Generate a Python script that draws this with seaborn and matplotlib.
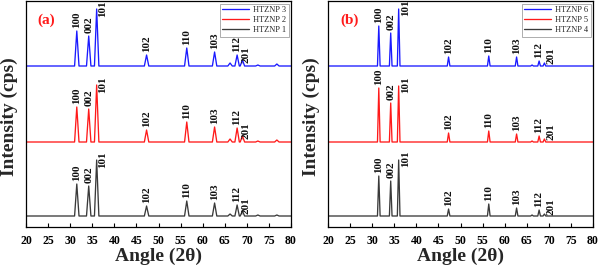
import matplotlib
matplotlib.use("Agg")
import matplotlib.pyplot as plt
import seaborn as sns
import pandas as pd

# ---------------- data ----------------
angle_min, angle_max = 20, 80
hkl_labels = ["100", "002", "101", "102", "110", "103", "112", "201"]
hkl_pos = [31.5, 34.2, 36.0, 47.3, 56.4, 62.7, 67.8, 69.0]
minor_pos = [66.2, 72.5, 76.8]

# panel (a)
names_a = ["HTZNP 1", "HTZNP 2", "HTZNP 3"]
heights_a1 = [32, 30, 56, 10, 15, 13, 11, 5]
heights_a2 = [35, 33, 57, 12, 20, 15, 14, 6]
heights_a3 = [35, 30, 57, 11, 18, 14, 11, 6]
minor_a1 = [2, 1, 1]
minor_a2 = [3, 1, 2]
minor_a3 = [3, 1, 2]

# panel (b)
names_b = ["HTZNP 4", "HTZNP 5", "HTZNP 6"]
heights_b1 = [40, 35, 56, 7, 12, 8, 6, 2]
heights_b2 = [54, 39, 56, 9, 11, 8, 6, 3]
heights_b3 = [40, 33, 57, 9, 10, 9, 5, 3]
minor_b1 = [1, 0, 0]
minor_b2 = [1, 0, 0]
minor_b3 = [1, 0, 0]

stack_offset = [11, 85, 161]   # vertical shift of each stacked pattern
colors = ["#3a3a3a", "#ff1a1a", "#1a1aff"]

# ---------------- style ----------------
sns.set_theme(style="ticks")
plt.rcParams["font.family"] = ["Liberation Serif", "DejaVu Serif"]
plt.rcParams["axes.linewidth"] = 0.9

fig = plt.figure(figsize=(6.02, 2.70), dpi=100)
W, H = 602, 270


def ax_at(left, top, right, bottom):
    return fig.add_axes([left / W, 1 - bottom / H, (right - left) / W, (bottom - top) / H])


def pattern(heights, minors, off, hw):
    peaks = sorted(list(zip(hkl_pos, heights)) + list(zip(minor_pos, minors)))
    xs, ys = [angle_min], [off]
    for p, h in peaks:
        xs += [p - hw, p, p + hw]
        ys += [off, off + h, off]
    xs.append(angle_max)
    ys.append(off)
    return pd.DataFrame({"angle": xs, "intensity": ys})


label_offsets = {
    "a": {"101": (6, 0, "center"), "201": (4, -3, "bottom")},
    "b": {"101": (7, 1, "center"), "201": (7, -1, "bottom")},
}


def draw(ax, names, heights, minors, hw, tag):
    for i in range(3):
        df = pattern(heights[i], minors[i], stack_offset[i], hw)
        sns.lineplot(data=df, x="angle", y="intensity", ax=ax, color=colors[i],
                     lw=0.95, sort=False, estimator=None, label=names[i])
        for lbl, p, h in zip(hkl_labels, hkl_pos, heights[i]):
            dx, dy, va = label_offsets[tag].get(lbl, (0, 3, "bottom"))
            ax.annotate(lbl, (p, stack_offset[i] + h), xytext=(dx, dy),
                        textcoords="offset pixels", rotation=90, ha="center",
                        va=va, fontsize=8, fontweight="bold", color="#111111")
    ax.set_xlim(angle_min, angle_max)
    ax.set_ylim(0, 226)
    ax.set_xticks(range(20, 81, 5))
    ax.set_yticks([])
    ax.tick_params(axis="x", direction="in", length=3, width=0.8, pad=6,
                   labelsize=8.5, colors="black")
    for t in ax.get_xticklabels():
        t.set_fontweight("bold")
    for s in ax.spines.values():
        s.set_visible(True)
        s.set_color("black")
    ax.set_xlabel("Angle (2θ)", fontsize=14, fontweight="bold", labelpad=0)
    ax.set_ylabel("Intensity (cps)", fontsize=14, fontweight="bold")
    ax.yaxis.set_label_coords(-0.032, 0.49)
    hs, ls = ax.get_legend_handles_labels()
    leg = ax.legend(hs[::-1], ls[::-1], loc="upper right", fontsize=6,
                    frameon=True, fancybox=False, edgecolor="#888888",
                    borderaxespad=0.3, handlelength=3.2, labelspacing=0.25,
                    borderpad=0.3, handletextpad=0.5)
    leg.get_frame().set_linewidth(0.6)
    ax.text(0.075 if tag == "a" else 0.08, 0.915, f"({tag})", transform=ax.transAxes,
            color="#ff1a1a", fontsize=11, fontweight="bold", ha="center", va="center")


ax_a = ax_at(26, 1, 291, 227)
draw(ax_a, names_a, [heights_a1, heights_a2, heights_a3],
     [minor_a1, minor_a2, minor_a3], 0.5, "a")

ax_b = ax_at(328, 1, 593, 227)
draw(ax_b, names_b, [heights_b1, heights_b2, heights_b3],
     [minor_b1, minor_b2, minor_b3], 0.3, "b")

fig.savefig("out.png", dpi=100, facecolor="white")
